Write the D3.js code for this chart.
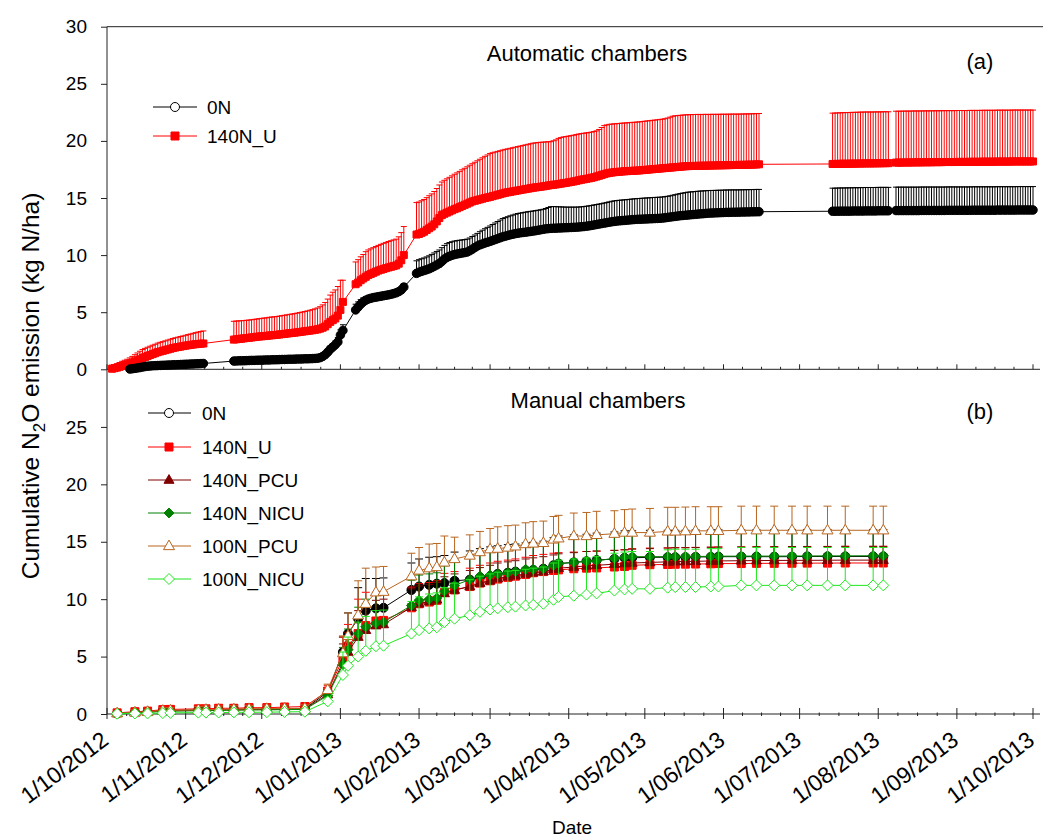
<!DOCTYPE html>
<html>
<head>
<meta charset="utf-8">
<script src="https://cdn.jsdelivr.net/npm/d3@7"></script>
<style>
  body { margin: 0; background: #fff; }
  svg { display: block; }
  text { font-family: "Liberation Sans", Arial, sans-serif; fill: #000; }
</style>
</head>
<body>
<svg id="chart" width="1043" height="839"></svg>
<script>
// ---------- axis data ----------
const monthLabels = ["1/10/2012","1/11/2012","1/12/2012","1/01/2013","1/02/2013","1/03/2013",
  "1/04/2013","1/05/2013","1/06/2013","1/07/2013","1/08/2013","1/09/2013","1/10/2013"];
const yTicksTop = [0, 5, 10, 15, 20, 25, 30];
const yTicksBottom = [0, 5, 10, 15, 20, 25];

// ---------- (a) automatic chambers: daily cumulative means and SE, one array per run ----------
const autoRunStarts = ["2012-10-03", "2012-11-20", "2013-01-07", "2013-01-31", "2013-07-14", "2013-08-08"];

const auto0N = [
  [null,null,null,null,null,null,null,0.02,0.05,0.08,0.12,0.15,0.2,0.24,0.27,0.29,0.31,0.32,0.33,0.34,0.35,0.36,0.37,0.38,0.39,0.4,0.41,0.42,0.43,0.44,0.45,0.46,0.47,0.48,0.49,0.5,0.51],
  [0.72,0.73,0.74,0.75,0.75,0.76,0.77,0.78,0.78,0.79,0.8,0.8,0.81,0.82,0.82,0.83,0.84,0.84,0.85,0.86,0.86,0.87,0.88,0.88,0.89,0.9,0.9,0.91,0.92,0.92,0.93,0.94,0.95,0.97,1.02,1.12,1.28,1.5,1.75,1.95,2.15,2.4,3.0,3.4],
  [5.2,5.45,5.7,5.9,6.05,6.15,6.22,6.28,6.32,6.36,6.4,6.44,6.48,6.52,6.57,6.63,6.7,6.8,6.95,7.2],
  [8.4,8.5,8.58,8.65,8.72,8.8,8.9,9.02,9.14,9.26,
   9.45,9.65,9.8,9.9,9.98,10.05,10.1,10.14,10.18,10.22,
   10.27,10.38,10.52,10.66,10.8,10.9,10.98,11.06,11.13,11.2,
   11.28,11.36,11.44,11.52,11.6,11.66,11.72,11.78,11.83,11.88,
   11.92,11.95,11.98,12.01,12.04,12.07,12.1,12.14,12.18,12.22,
   12.26,12.3,12.32,12.34,12.35,12.36,12.37,12.38,12.39,12.4,
   12.41,12.42,12.43,12.44,12.46,12.48,12.5,12.53,12.56,12.6,
   12.64,12.68,12.72,12.76,12.8,12.84,12.88,12.92,12.95,12.98,
   13.0,13.02,13.04,13.06,13.08,13.1,13.12,13.13,13.14,13.15,
   13.16,13.17,13.18,13.19,13.2,13.21,13.22,13.24,13.27,13.3,
   13.33,13.36,13.39,13.42,13.45,13.47,13.49,13.51,13.53,13.55,
   13.57,13.59,13.61,13.63,13.65,13.67,13.68,13.69,13.7,13.71,
   13.72,13.73,13.74,13.74,13.75,13.75,13.76,13.76,13.77,13.77,
   13.78,13.78,13.79,13.79,13.8,13.8],
  [13.84,13.84,13.84,13.85,13.85,13.85,13.85,13.85,13.86,13.86,13.86,13.86,13.86,13.87,13.87,13.87,13.87,13.87,13.88,13.88,13.88,13.88,13.88],
  [13.9,13.9,13.9,13.9,13.9,13.9,13.9,13.9,13.9,13.9,13.91,13.91,13.91,13.91,13.91,13.91,13.91,13.91,13.91,13.91,
   13.92,13.92,13.92,13.92,13.92,13.92,13.92,13.92,13.92,13.92,13.93,13.93,13.93,13.93,13.93,13.93,13.93,13.93,13.93,13.93,
   13.94,13.94,13.94,13.94,13.94,13.94,13.94,13.94,13.95,13.95,13.95,13.95,13.95,13.95,13.95]
];
const auto0N_SE = [
  [null,null,null,null,null,null,null,0.02,0.03,0.04,0.05,0.05,0.06,0.06,0.07,0.07,0.07,0.08,0.08,0.08,0.08,0.09,0.09,0.09,0.09,0.1,0.1,0.1,0.1,0.1,0.11,0.11,0.11,0.11,0.12,0.12,0.12],
  [0.12,0.12,0.12,0.12,0.12,0.13,0.13,0.13,0.13,0.13,0.13,0.13,0.14,0.14,0.14,0.14,0.14,0.14,0.15,0.15,0.15,0.15,0.15,0.15,0.16,0.16,0.16,0.16,0.16,0.17,0.17,0.17,0.18,0.18,0.19,0.2,0.22,0.25,0.28,0.3,0.33,0.38,0.45,0.5],
  [0.5,0.45,0.4,0.35,0.3,0.25,0.2,0.2,0.2,0.2,0.2,0.2,0.2,0.2,0.2,0.2,0.2,0.22,0.25,0.3],
  [1.1,1.1,1.1,1.1,1.12,1.14,1.16,1.17,1.18,1.19,
   1.2,1.2,1.2,1.2,1.19,1.18,1.17,1.16,1.15,1.14,
   1.13,1.12,1.11,1.1,1.1,1.15,1.2,1.25,1.3,1.35,
   1.4,1.45,1.5,1.55,1.6,1.62,1.64,1.66,1.68,1.7,
   1.72,1.73,1.74,1.75,1.76,1.76,1.76,1.76,1.75,1.75,
   1.75,1.78,1.85,1.9,1.9,1.88,1.86,1.84,1.82,1.8,
   1.79,1.78,1.77,1.76,1.75,1.75,1.75,1.75,1.75,1.75,
   1.75,1.75,1.75,1.75,1.76,1.77,1.78,1.79,1.8,1.8,
   1.8,1.8,1.8,1.8,1.8,1.81,1.81,1.82,1.82,1.83,
   1.83,1.84,1.84,1.85,1.85,1.85,1.85,1.85,1.85,1.85,
   1.86,1.88,1.9,1.92,1.94,1.96,1.98,2.0,2.0,2.0,
   2.0,2.0,2.0,1.99,1.99,1.98,1.98,1.97,1.97,1.97,
   1.96,1.96,1.96,1.96,1.96,1.96,1.95,1.95,1.95,1.95,
   1.95,1.95,1.95,1.95,1.95,1.95],
  [2.02,2.02,2.03,2.03,2.03,2.03,2.04,2.04,2.04,2.04,2.04,2.05,2.05,2.05,2.05,2.05,2.05,2.05,2.05,2.05,2.05,2.05,2.05],
  [2.05,2.05,2.05,2.05,2.05,2.05,2.05,2.05,2.05,2.05,2.05,2.05,2.05,2.05,2.05,2.05,2.05,2.05,2.05,2.05,
   2.05,2.05,2.05,2.05,2.05,2.05,2.05,2.05,2.05,2.05,2.05,2.05,2.05,2.05,2.05,2.05,2.05,2.05,2.05,2.05,
   2.05,2.05,2.05,2.05,2.05,2.05,2.05,2.05,2.05,2.05,2.05,2.05,2.05,2.05,2.05]
];
const auto140NU = [
  [0.05,0.1,0.15,0.22,0.3,0.36,0.42,0.5,0.58,0.68,0.78,0.88,0.98,1.07,1.16,1.25,1.33,1.41,1.5,1.56,1.62,1.68,1.74,1.8,1.86,1.91,1.95,1.99,2.03,2.07,2.11,2.14,2.17,2.2,2.22,2.24,2.26],
  [2.6,2.63,2.66,2.68,2.71,2.74,2.76,2.79,2.82,2.85,2.87,2.89,2.91,2.93,2.96,2.98,3.0,3.02,3.05,3.08,3.1,3.13,3.16,3.18,3.21,3.24,3.27,3.3,3.33,3.36,3.39,3.42,3.46,3.5,3.56,3.64,3.75,3.95,4.15,4.3,4.45,4.7,5.2,5.9],
  [7.45,7.6,7.8,7.95,8.1,8.25,8.35,8.45,8.55,8.65,8.72,8.79,8.86,8.92,8.98,9.04,9.1,9.25,9.55,10.0],
  [11.8,11.85,11.95,12.05,12.2,12.35,12.5,12.7,12.95,13.25,
   13.5,13.62,13.72,13.82,13.92,14.02,14.1,14.2,14.3,14.4,
   14.5,14.6,14.7,14.76,14.82,14.88,14.94,15.0,15.05,15.1,
   15.16,15.22,15.28,15.34,15.4,15.46,15.5,15.54,15.58,15.62,
   15.66,15.7,15.74,15.78,15.82,15.86,15.9,15.93,15.96,15.99,
   16.02,16.06,16.1,16.13,16.16,16.19,16.22,16.26,16.3,16.33,
   16.37,16.41,16.45,16.5,16.55,16.6,16.64,16.68,16.72,16.77,
   16.82,16.88,16.95,17.02,17.09,17.15,17.2,17.23,17.26,17.28,
   17.3,17.32,17.34,17.35,17.37,17.38,17.39,17.4,17.42,17.44,
   17.46,17.48,17.5,17.52,17.54,17.56,17.58,17.6,17.62,17.64,
   17.66,17.68,17.7,17.72,17.74,17.76,17.78,17.79,17.8,17.81,
   17.81,17.82,17.82,17.83,17.83,17.84,17.84,17.85,17.85,17.86,
   17.86,17.87,17.87,17.88,17.88,17.89,17.89,17.9,17.9,17.91,
   17.91,17.92,17.92,17.93,17.94,17.95],
  [17.98,17.98,17.99,17.99,18.0,18.0,18.0,18.01,18.01,18.01,18.02,18.02,18.02,18.03,18.03,18.03,18.03,18.04,18.04,18.04,18.05,18.05,18.05],
  [18.1,18.1,18.1,18.11,18.11,18.11,18.11,18.12,18.12,18.12,18.12,18.13,18.13,18.13,18.13,18.14,18.14,18.14,18.14,18.15,
   18.15,18.15,18.15,18.15,18.16,18.16,18.16,18.16,18.16,18.17,18.17,18.17,18.17,18.17,18.18,18.18,18.18,18.18,18.18,18.18,
   18.19,18.19,18.19,18.19,18.19,18.19,18.2,18.2,18.2,18.2,18.2,18.2,18.2,18.2,18.2]
];
const auto140NU_SE = [
  [0.3,0.32,0.34,0.37,0.4,0.43,0.46,0.5,0.55,0.6,0.65,0.7,0.75,0.76,0.77,0.77,0.78,0.78,0.79,0.8,0.8,0.81,0.82,0.83,0.84,0.85,0.86,0.88,0.89,0.91,0.93,0.95,0.98,1.01,1.04,1.07,1.1],
  [1.6,1.6,1.58,1.57,1.56,1.55,1.55,1.55,1.55,1.55,1.56,1.57,1.58,1.58,1.59,1.6,1.6,1.6,1.61,1.62,1.63,1.64,1.65,1.66,1.67,1.68,1.7,1.71,1.73,1.75,1.78,1.8,1.83,1.87,1.92,2.0,2.1,2.2,2.35,2.45,2.5,2.55,2.6,1.9],
  [1.95,2.0,2.05,2.1,2.2,2.2,2.2,2.2,2.2,2.2,2.22,2.24,2.25,2.27,2.28,2.29,2.3,2.35,2.42,2.5],
  [2.8,2.8,2.81,2.82,2.83,2.85,2.86,2.87,2.88,2.89,
   2.9,2.93,2.96,2.99,3.02,3.06,3.1,3.13,3.17,3.2,
   3.23,3.27,3.3,3.37,3.44,3.51,3.58,3.65,3.72,3.8,
   3.8,3.8,3.8,3.8,3.8,3.8,3.8,3.81,3.82,3.83,
   3.84,3.85,3.86,3.87,3.88,3.89,3.9,3.9,3.9,3.89,
   3.87,3.85,3.83,3.8,3.85,3.9,4.0,4.03,4.05,4.05,
   4.05,4.05,4.05,4.05,4.05,4.04,4.03,4.02,4.01,4.0,
   4.0,4.0,4.05,4.15,4.25,4.25,4.25,4.24,4.24,4.23,
   4.23,4.23,4.23,4.23,4.23,4.24,4.24,4.25,4.25,4.26,
   4.26,4.27,4.27,4.28,4.28,4.29,4.3,4.3,4.32,4.36,
   4.42,4.48,4.5,4.5,4.5,4.5,4.5,4.5,4.5,4.5,
   4.5,4.5,4.49,4.49,4.49,4.48,4.48,4.48,4.47,4.47,
   4.47,4.47,4.46,4.46,4.46,4.46,4.45,4.45,4.45,4.45,
   4.45,4.45,4.45,4.45,4.45,4.45],
  [4.45,4.46,4.46,4.47,4.47,4.48,4.48,4.48,4.49,4.49,4.49,4.5,4.5,4.5,4.5,4.5,4.5,4.5,4.5,4.5,4.5,4.5,4.5],
  [4.5,4.5,4.5,4.5,4.5,4.5,4.5,4.5,4.5,4.5,4.5,4.5,4.5,4.5,4.5,4.5,4.5,4.5,4.5,4.5,
   4.5,4.5,4.5,4.5,4.5,4.5,4.5,4.5,4.5,4.5,4.5,4.5,4.5,4.5,4.5,4.5,4.5,4.5,4.5,4.5,
   4.5,4.5,4.5,4.5,4.5,4.5,4.5,4.5,4.5,4.5,4.5,4.5,4.5,4.5,4.5]
];

// ---------- (b) manual chambers: sampling dates, cumulative means and SE ----------
const manualDates = ["2012-10-05","2012-10-12","2012-10-17","2012-10-23","2012-10-26","2012-11-06","2012-11-09",
  "2012-11-14","2012-11-20","2012-11-26","2012-12-03","2012-12-10","2012-12-18","2012-12-27","2013-01-02",
  "2013-01-04","2013-01-08","2013-01-11","2013-01-15","2013-01-18","2013-01-29","2013-02-01","2013-02-05",
  "2013-02-08","2013-02-11","2013-02-15","2013-02-21","2013-02-25","2013-03-01","2013-03-04","2013-03-08",
  "2013-03-11","2013-03-15","2013-03-18","2013-03-22","2013-03-26","2013-03-28","2013-04-03","2013-04-08",
  "2013-04-12","2013-04-19","2013-04-23","2013-04-26","2013-05-03","2013-05-10","2013-05-13","2013-05-17",
  "2013-05-21","2013-05-27","2013-05-30","2013-06-08","2013-06-14","2013-06-21","2013-06-28","2013-07-04",
  "2013-07-12","2013-07-19","2013-07-30","2013-08-03"];

const man0N = [0.05,0.15,0.2,0.28,0.3,0.35,0.35,0.38,0.4,0.42,0.42,0.45,0.48,1.9,
  5.4,7.0,8.3,9.0,9.2,9.25,
  10.8,11.1,11.25,11.35,11.4,11.6,11.7,11.9,12.0,12.2,12.3,12.4,12.5,12.55,12.65,12.95,13.1,13.2,13.3,13.4,13.5,13.6,13.6,13.65,
  13.65,13.65,13.65,13.68,13.68,13.7,13.7,13.7,13.7,13.7,13.72,13.72,13.72,13.72,13.72];
const man0N_SE = [0.05,0.06,0.08,0.1,0.1,0.12,0.12,0.13,0.14,0.14,0.15,0.15,0.16,0.4,
  1.3,1.8,2.7,2.8,2.6,2.6,
  2.35,2.4,2.4,2.35,2.4,2.5,2.5,2.5,2.55,2.45,2.45,2.4,2.4,2.4,2.4,2.4,2.4,2.4,2.35,2.35,2.35,2.35,2.35,2.35,
  2.35,2.35,2.35,2.35,2.35,2.35,2.35,2.35,2.35,2.35,2.35,2.35,2.35,2.35,2.35];

const man140NU = [0.1,0.2,0.25,0.38,0.4,0.45,0.45,0.5,0.5,0.55,0.55,0.6,0.65,2.0,
  4.8,5.9,7.0,7.7,8.1,8.15,
  9.25,9.6,9.75,9.9,10.6,10.8,11.1,11.4,11.6,11.75,11.9,12.0,12.15,12.3,12.4,12.5,12.55,12.65,12.7,12.72,12.8,12.85,12.95,13.0,
  13.02,13.04,13.05,13.06,13.08,13.1,13.1,13.12,13.12,13.13,13.14,13.14,13.15,13.15,13.15];
const man140NU_SE = [0.2,0.25,0.25,0.3,0.3,0.3,0.3,0.3,0.32,0.32,0.33,0.33,0.35,0.5,
  1.9,1.9,3.0,2.9,2.5,2.5,
  1.8,1.75,1.7,1.7,1.65,1.6,1.6,1.55,1.55,1.55,1.5,1.5,1.5,1.5,1.5,1.5,1.5,1.45,1.45,1.45,1.45,1.45,1.45,1.45,
  1.45,1.45,1.45,1.45,1.45,1.45,1.45,1.45,1.45,1.45,1.45,1.45,1.45,1.45,1.45];

const man140NPCU = [0.05,0.12,0.18,0.25,0.28,0.32,0.33,0.35,0.36,0.38,0.4,0.42,0.45,1.7,
  4.5,5.4,6.7,7.3,7.7,7.8,
  9.3,9.6,9.8,9.95,10.5,10.8,11.1,11.4,11.6,11.8,11.95,12.05,12.2,12.3,12.4,12.6,12.7,12.8,12.9,12.95,13.05,13.1,13.15,13.2,
  13.25,13.27,13.28,13.3,13.32,13.33,13.35,13.36,13.37,13.38,13.38,13.39,13.4,13.4,13.4];
const man140NPCU_SE = [0.15,0.2,0.2,0.25,0.25,0.25,0.25,0.25,0.28,0.28,0.3,0.3,0.3,0.4,
  1.6,1.7,2.3,2.3,2.2,2.2,
  1.6,1.55,1.5,1.5,1.45,1.4,1.4,1.35,1.35,1.35,1.3,1.3,1.3,1.3,1.3,1.25,1.25,1.25,1.25,1.25,1.2,1.2,1.2,1.2,
  1.2,1.2,1.2,1.2,1.2,1.2,1.2,1.2,1.2,1.2,1.2,1.2,1.2,1.2,1.2];

const man140NNICU = [0.05,0.12,0.15,0.22,0.25,0.28,0.3,0.32,0.33,0.35,0.36,0.38,0.4,1.6,
  4.3,5.6,7.0,7.6,7.9,8.0,
  9.45,9.9,10.0,10.1,10.7,11.2,11.7,12.0,12.1,12.2,12.3,12.4,12.6,12.6,12.65,12.95,13.1,13.2,13.3,13.35,13.55,13.65,13.7,13.7,
  13.7,13.7,13.72,13.72,13.73,13.74,13.75,13.75,13.75,13.76,13.76,13.77,13.77,13.78,13.78];
const man140NNICU_SE = [0.15,0.2,0.2,0.25,0.25,0.25,0.25,0.28,0.28,0.28,0.3,0.3,0.3,0.4,
  1.5,1.8,2.3,2.4,2.5,2.5,
  2.2,2.2,2.2,2.2,2.2,2.2,2.15,2.1,2.1,2.1,2.1,2.1,2.05,2.05,2.05,2.05,2.05,2.05,2.05,2.05,2.1,2.1,2.1,2.1,
  2.1,2.1,2.1,2.1,2.1,2.1,2.1,2.1,2.1,2.1,2.1,2.1,2.1,2.1,2.1];

const man100NPCU = [0.08,0.15,0.2,0.3,0.32,0.36,0.38,0.4,0.42,0.45,0.46,0.48,0.5,2.1,
  5.3,6.8,8.6,9.6,10.6,10.65,
  12.0,12.5,12.7,12.8,13.2,13.5,13.8,14.1,14.35,14.4,14.5,14.6,14.8,14.85,14.9,15.2,15.3,15.5,15.5,15.6,15.7,15.8,15.8,15.8,
  15.9,15.9,15.92,15.95,15.95,15.95,16.0,16.0,16.0,16.0,16.0,16.0,16.0,16.0,16.0];
const man100NPCU_SE = [0.15,0.2,0.2,0.25,0.25,0.3,0.3,0.3,0.3,0.3,0.3,0.3,0.3,0.5,
  1.5,2.0,3.0,3.1,2.2,2.2,
  2.0,2.0,2.1,2.05,2.3,1.9,1.8,1.8,1.8,1.9,1.9,1.85,1.85,1.9,1.9,2.0,2.0,2.0,2.05,2.05,2.0,2.0,2.05,2.1,
  2.1,2.1,2.1,2.1,2.1,2.1,2.1,2.1,2.1,2.1,2.1,2.1,2.1,2.1,2.1];

const man100NNICU = [0.02,0.05,0.05,0.08,0.1,0.12,0.12,0.13,0.14,0.15,0.16,0.18,0.2,1.1,
  3.4,4.2,5.0,5.5,5.9,5.95,
  7.0,7.3,7.45,7.55,8.0,8.3,8.6,8.9,9.1,9.2,9.3,9.35,9.45,9.5,9.6,9.95,10.2,10.3,10.4,10.5,10.75,10.85,10.9,10.9,
  11.0,11.05,11.05,11.05,11.1,11.1,11.2,11.2,11.2,11.2,11.2,11.2,11.2,11.2,11.2];
const man100NNICU_SE = [0.05,0.08,0.1,0.1,0.1,0.12,0.12,0.12,0.12,0.12,0.13,0.13,0.13,0.3,
  2.0,2.5,3.0,3.0,3.1,3.1,
  2.8,2.9,3.0,3.0,3.0,3.1,3.1,3.1,3.1,3.15,3.15,3.15,3.15,3.2,3.2,3.2,3.2,3.2,3.2,3.2,3.25,3.25,3.25,3.25,
  3.3,3.3,3.3,3.3,3.3,3.3,3.3,3.3,3.3,3.3,3.3,3.3,3.3,3.3,3.3];

// ---------- treatment names and styles ----------
const treatmentNames = ["0N", "140N_U", "140N_PCU", "140N_NICU", "100N_PCU", "100N_NICU"];
const treatmentColors = ["#000000", "#ff0000", "#800000", "#008000", "#b8651e", "#1ee81e"];
const treatmentShapes = ["circle", "square", "triangle", "diamond", "triangle", "diamond"];
const treatmentFilled = [true, true, true, true, false, false];

// ---------- scales ----------
const parseDMY = d3.timeParse("%d/%m/%Y");
const parseISO = d3.timeParse("%Y-%m-%d");
const monthDates = monthLabels.map(parseDMY);

const x = d3.scaleTime().domain([monthDates[0], monthDates[monthDates.length - 1]]).range([107, 1033]);
const yTop = d3.scaleLinear().domain([0, 30]).range([369.3, 26.7]);
const yBot = d3.scaleLinear().domain([0, 30]).range([714, 369.5]);

const svg = d3.select("#chart");

// marker outlines, centred on the point
function shapePath(shape, s) {
  const h = s / 2;
  if (shape === "circle") return d3.symbol(d3.symbolCircle, Math.PI * h * h)();
  if (shape === "square") return `M${-h},${-h}H${h}V${h}H${-h}Z`;
  if (shape === "diamond") return `M0,${-h * 1.1}L${h * 1.1},0L0,${h * 1.1}L${-h * 1.1},0Z`;
  const th = s * 0.87;
  return `M0,${-th * 0.62}L${h},${th * 0.38}L${-h},${th * 0.38}Z`;
}

function buildAuto(means, ses) {
  const pts = [];
  autoRunStarts.forEach((start, r) => {
    const d0 = parseISO(start);
    means[r].forEach((m, i) => {
      if (m != null) pts.push({ date: d3.timeDay.offset(d0, i), mean: m, se: ses[r][i] });
    });
  });
  return pts;
}

function buildManual(means, ses) {
  return manualDates.map((d, i) => ({ date: parseISO(d), mean: means[i], se: ses[i] }));
}

function drawSeries(g, pts, y, opt) {
  const grp = g.append("g");
  // upper standard-error bars
  grp.append("g").selectAll("path").data(pts).join("path")
    .attr("d", d => {
      const px = x(d.date), y0 = y(d.mean), y1 = y(d.mean + d.se), c = opt.cap / 2;
      return `M${px},${y0}V${y1}M${px - c},${y1}H${px + c}`;
    })
    .attr("fill", "none").attr("stroke", opt.color).attr("stroke-width", 1);
  // connecting line
  grp.append("path").datum(pts)
    .attr("d", d3.line().x(d => x(d.date)).y(d => y(d.mean)))
    .attr("fill", "none").attr("stroke", opt.color).attr("stroke-width", 1);
  // markers
  grp.append("g").selectAll("path").data(pts).join("path")
    .attr("transform", d => `translate(${x(d.date)},${y(d.mean)})`)
    .attr("d", shapePath(opt.shape, opt.size))
    .attr("fill", opt.filled ? opt.color : "#fff")
    .attr("stroke", opt.color).attr("stroke-width", 1);
}

function legendEntry(g, lx0, lx1, mx, tx, ly, i, size, fillOverride) {
  const c = treatmentColors[i];
  g.append("line").attr("x1", lx0).attr("x2", lx1).attr("y1", ly).attr("y2", ly)
    .attr("stroke", c).attr("stroke-width", 1);
  g.append("path").attr("transform", `translate(${mx},${ly})`)
    .attr("d", shapePath(treatmentShapes[i], size))
    .attr("fill", fillOverride || (treatmentFilled[i] ? c : "#fff"))
    .attr("stroke", c).attr("stroke-width", 1);
  g.append("text").attr("x", tx).attr("y", ly + 7).attr("font-size", 19).text(treatmentNames[i]);
}

// minor tick dates: three per month
const minorDates = [];
for (let i = 0; i < monthDates.length - 1; i++) {
  const a = +monthDates[i], b = +monthDates[i + 1];
  for (let k = 1; k <= 3; k++) minorDates.push(new Date(a + (b - a) * k / 4));
}

// ---------- frame and axes ----------
const axes = svg.append("g").attr("stroke", "#222").attr("stroke-width", 1);
axes.append("line").attr("x1", 107).attr("x2", 1043).attr("y1", yTop(30)).attr("y2", yTop(30));
axes.append("line").attr("x1", 107).attr("x2", 107).attr("y1", yTop(30)).attr("y2", yBot(0));
axes.append("line").attr("x1", 107).attr("x2", 1040).attr("y1", yTop(0)).attr("y2", yTop(0));
axes.append("line").attr("x1", 107).attr("x2", 1040).attr("y1", yBot(0)).attr("y2", yBot(0));

// top panel x ticks (inward, no labels)
axes.append("g").selectAll("line").data(monthDates).join("line")
  .attr("x1", d => x(d)).attr("x2", d => x(d)).attr("y1", yTop(0)).attr("y2", yTop(0) - 5);
axes.append("g").selectAll("line").data(minorDates).join("line")
  .attr("x1", d => x(d)).attr("x2", d => x(d)).attr("y1", yTop(0)).attr("y2", yTop(0) - 2.5);
// bottom panel x ticks (crossing the axis)
axes.append("g").selectAll("line").data(monthDates).join("line")
  .attr("x1", d => x(d)).attr("x2", d => x(d)).attr("y1", yBot(0) - 6).attr("y2", yBot(0) + 5);
axes.append("g").selectAll("line").data(minorDates).join("line")
  .attr("x1", d => x(d)).attr("x2", d => x(d)).attr("y1", yBot(0) - 1.5).attr("y2", yBot(0) + 2);

// y axes
function yAxis(scale, ticks) {
  const g = svg.append("g").attr("transform", "translate(107,0)")
    .call(d3.axisLeft(scale).tickValues(ticks).tickFormat(d3.format("d")).tickSize(6).tickPadding(14));
  g.select(".domain").remove();
  g.selectAll(".tick line").attr("stroke", "#222");
  g.selectAll(".tick text").attr("font-size", 19).attr("font-family", "Liberation Sans, Arial, sans-serif").attr("fill", "#000");
}
yAxis(yTop, yTicksTop);
yAxis(yBot, yTicksBottom);

// x tick labels, rotated
svg.append("g").selectAll("text").data(monthDates).join("text")
  .attr("transform", d => `translate(${x(d) + 3},${yBot(0) + 29}) rotate(-37)`)
  .attr("text-anchor", "end").attr("font-size", 23)
  .text((d, i) => monthLabels[i]);

// axis titles
svg.append("text").attr("x", 572).attr("y", 834).attr("text-anchor", "middle").attr("font-size", 19).text("Date");
const yl = svg.append("text").attr("transform", "translate(39,386) rotate(-90)")
  .attr("text-anchor", "middle").attr("font-size", 24.5);
yl.append("tspan").text("Cumulative N");
yl.append("tspan").attr("font-size", 17).attr("dy", 6).text("2");
yl.append("tspan").attr("dy", -6).text("O emission (kg N/ha)");

// ---------- panel (a) ----------
const gA = svg.append("g");
drawSeries(gA, buildAuto(auto140NU, auto140NU_SE), yTop, { color: treatmentColors[1], shape: "square", size: 7, filled: true, cap: 6 });
drawSeries(gA, buildAuto(auto0N, auto0N_SE), yTop, { color: treatmentColors[0], shape: "circle", size: 8.5, filled: true, cap: 6 });

svg.append("text").attr("x", 587).attr("y", 61).attr("text-anchor", "middle").attr("font-size", 22).text("Automatic chambers");
svg.append("text").attr("x", 980).attr("y", 69).attr("text-anchor", "middle").attr("font-size", 22).text("(a)");
const legA = svg.append("g");
legendEntry(legA, 153, 197, 175, 207, 107, 0, 9, "#fff");
legendEntry(legA, 153, 197, 175, 207, 136, 1, 8);

// ---------- panel (b) ----------
const gB = svg.append("g");
const manualMeans = [man0N, man140NU, man140NPCU, man140NNICU, man100NPCU, man100NNICU];
const manualSEs = [man0N_SE, man140NU_SE, man140NPCU_SE, man140NNICU_SE, man100NPCU_SE, man100NNICU_SE];
const manualSizes = [9, 8, 10, 9, 11, 10];
manualMeans.forEach((m, i) => {
  drawSeries(gB, buildManual(m, manualSEs[i]), yBot, {
    color: treatmentColors[i], shape: treatmentShapes[i], size: manualSizes[i],
    filled: treatmentFilled[i], cap: 8
  });
});

svg.append("text").attr("x", 598).attr("y", 408).attr("text-anchor", "middle").attr("font-size", 22).text("Manual chambers");
svg.append("text").attr("x", 980).attr("y", 419).attr("text-anchor", "middle").attr("font-size", 22).text("(b)");
const legB = svg.append("g");
const legYs = [413, 447, 480, 513, 546, 579];
treatmentNames.forEach((n, i) => {
  legendEntry(legB, 148, 191, 169, 202, legYs[i], i, i === 0 ? 9 : manualSizes[i], i === 0 ? "#fff" : null);
});
</script>
</body>
</html>
